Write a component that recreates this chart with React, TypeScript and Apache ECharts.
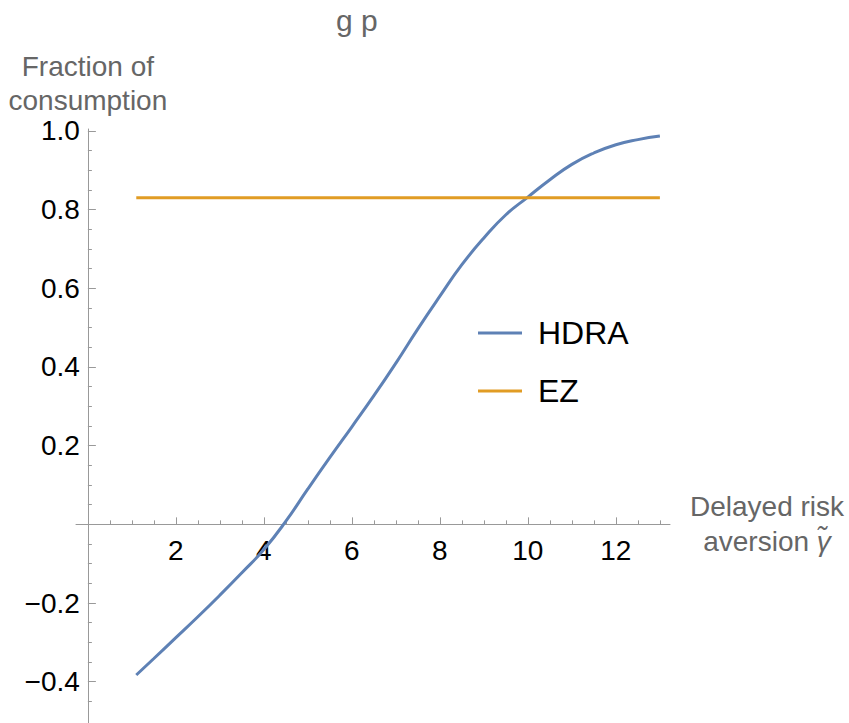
import React, { useEffect, useRef } from "react";
import * as echarts from "echarts";

// HDRA curve
const hdraX = [1.1, 1.5, 2, 2.5, 3, 3.5, 4, 4.5, 5, 5.5, 6, 6.5, 7, 7.5, 8, 8.5, 9, 9.5, 10, 10.5, 11, 11.5, 12, 12.5, 13];
const hdraY = [-0.383, -0.341, -0.288, -0.235, -0.18, -0.123, -0.064, 0.008, 0.09, 0.17, 0.248, 0.327, 0.41, 0.497, 0.58, 0.66, 0.728, 0.787, 0.832, 0.876, 0.915, 0.944, 0.965, 0.978, 0.987];
// EZ constant line
const ezX = [1.1, 13];
const ezY = [0.83, 0.83];

const seriesNames = ["HDRA", "EZ"];
const xMajorTicks = [0, 2, 4, 6, 8, 10, 12];
const xTickLabels = [2, 4, 6, 8, 10, 12];
const xMinorTicks = [0.5, 1, 1.5, 2.5, 3, 3.5, 4.5, 5, 5.5, 6.5, 7, 7.5, 8.5, 9, 9.5, 10.5, 11, 11.5, 12.5, 13];
const yMajorTicks = [-0.4, -0.2, 0, 0.2, 0.4, 0.6, 0.8, 1.0];
const yTickLabels = [-0.4, -0.2, 0.2, 0.4, 0.6, 0.8, 1.0];
const yMinorTicks = [-0.45, -0.35, -0.3, -0.25, -0.15, -0.1, -0.05, 0.05, 0.1, 0.15, 0.25, 0.3, 0.35, 0.45, 0.5, 0.55, 0.65, 0.7, 0.75, 0.85, 0.9, 0.95];

const FONT = "Liberation Sans, Arial, sans-serif";
const AXIS_COLOR = "#999999";
const NAME_COLOR = "#666666";

export default function App() {
  const ref = useRef<HTMLDivElement>(null);
  useEffect(() => {
    if (!ref.current) return;
    const chart = echarts.init(ref.current, null, { renderer: "svg" });
    const xRange = { min: -0.27, max: 13.23 };
    const yRange = { min: -0.505, max: 1.005 };
    const grid = { left: 76, top: 129, width: 594, height: 594 };
    // place the labelled axes on the zero lines through offsets (layout only)
    const zeroYpx = grid.top + grid.height * (yRange.max / (yRange.max - yRange.min));
    const xOffset = zeroYpx - (grid.top + grid.height);
    const zeroXpx = grid.left + grid.width * ((0 - xRange.min) / (xRange.max - xRange.min));
    const yOffset = grid.left - zeroXpx;
    const fmtY = (v: number) => (v < 0 ? "\u2212" + Math.abs(v).toFixed(1) : v.toFixed(1));
    chart.setOption({
      animation: false,
      title: {
        text: "g p",
        left: 331,
        top: 0,
        padding: 5,
        textStyle: { fontSize: 30, fontWeight: "normal", color: NAME_COLOR, fontFamily: FONT },
      },
      legend: {
        data: seriesNames,
        orient: "vertical",
        left: 478,
        top: 317,
        icon: "rect",
        itemWidth: 44,
        itemHeight: 3,
        itemGap: 26,
        padding: 0,
        textStyle: { fontSize: 32, color: "#000", fontFamily: FONT, padding: [0, 0, 0, 11] },
      },
      grid: { ...grid, containLabel: false, outerBoundsMode: "none" },
      xAxis: [
        {
          type: "value",
          ...xRange,
          position: "bottom",
          offset: xOffset,
          name: "Delayed risk\naversion {i|\u03B3\u0303}",
          nameLocation: "end",
          nameGap: 97,
          nameTextStyle: {
            fontSize: 28,
            color: NAME_COLOR,
            fontFamily: FONT,
            lineHeight: 35,
            align: "center",
            verticalAlign: "middle",
            rich: { i: { fontSize: 28, lineHeight: 35, fontStyle: "italic", color: NAME_COLOR, fontFamily: FONT } },
          },
          axisLine: { show: true, onZero: false, lineStyle: { color: AXIS_COLOR, width: 1 } },
          axisTick: { show: true, inside: true, length: 7, customValues: xMajorTicks, lineStyle: { color: AXIS_COLOR } },
          axisLabel: { customValues: xTickLabels, margin: 12, color: "#000", fontSize: 28, fontFamily: FONT },
          splitLine: { show: false },
        },
        {
          type: "value",
          ...xRange,
          position: "bottom",
          offset: xOffset,
          axisLine: { show: false, onZero: false },
          axisTick: { show: true, inside: true, length: 4, customValues: xMinorTicks, lineStyle: { color: AXIS_COLOR } },
          axisLabel: { show: false },
          splitLine: { show: false },
        },
      ],
      yAxis: [
        {
          type: "value",
          ...yRange,
          position: "left",
          offset: yOffset,
          name: "Fraction of\nconsumption",
          nameLocation: "end",
          nameGap: 12,
          nameTextStyle: {
            fontSize: 28,
            color: NAME_COLOR,
            fontFamily: FONT,
            lineHeight: 34,
            align: "center",
          },
          axisLine: { show: true, onZero: false, lineStyle: { color: AXIS_COLOR, width: 1 } },
          axisTick: { show: true, inside: true, length: 8, customValues: yMajorTicks, lineStyle: { color: AXIS_COLOR } },
          axisLabel: { customValues: yTickLabels, margin: 8, color: "#000", fontSize: 28, fontFamily: FONT, formatter: fmtY },
          splitLine: { show: false },
        },
        {
          type: "value",
          ...yRange,
          position: "left",
          offset: yOffset,
          axisLine: { show: false, onZero: false },
          axisTick: { show: true, inside: true, length: 4, customValues: yMinorTicks, lineStyle: { color: AXIS_COLOR } },
          axisLabel: { show: false },
          splitLine: { show: false },
        },
      ],
      series: [
        {
          name: seriesNames[0],
          type: "line",
          xAxisIndex: 0,
          yAxisIndex: 0,
          data: hdraX.map((x, i) => [x, hdraY[i]]),
          smooth: 0.5,
          symbol: "none",
          lineStyle: { color: "#5E81B5", width: 3 },
          itemStyle: { color: "#5E81B5" },
        },
        {
          name: seriesNames[1],
          type: "line",
          xAxisIndex: 0,
          yAxisIndex: 0,
          data: ezX.map((x, i) => [x, ezY[i]]),
          symbol: "none",
          lineStyle: { color: "#E19C24", width: 3 },
          itemStyle: { color: "#E19C24" },
        },
      ],
    });
    return () => chart.dispose();
  }, []);
  return <div ref={ref} style={{ position: "absolute", left: 0, top: 0, width: 849, height: 723 }} />;
}
